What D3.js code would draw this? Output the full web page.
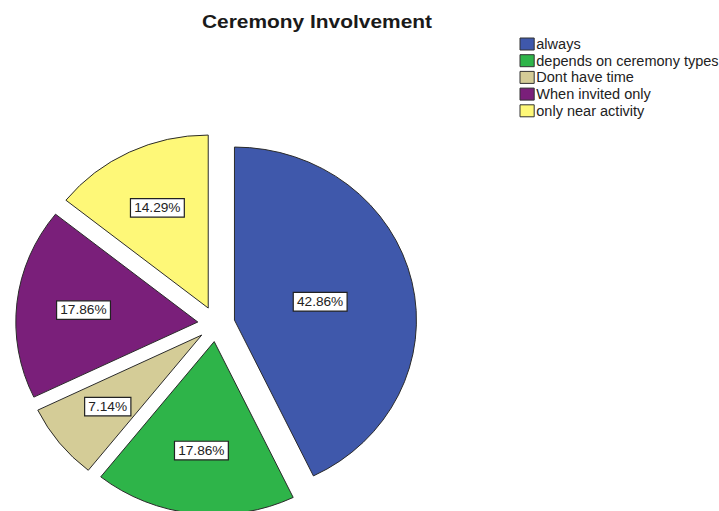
<!DOCTYPE html>
<html>
<head>
<meta charset="utf-8">
<script src="https://cdn.jsdelivr.net/npm/d3@7"></script>
<style>
  body { margin: 0; background: #ffffff; }
  text { font-family: "Liberation Sans", Arial, sans-serif; }
</style>
</head>
<body>
<div id="pie_d3"></div>
<script>
// data
var categories = ["always", "depends on ceremony types", "Dont have time", "When invited only", "only near activity"];
var percents = [42.86, 17.86, 7.14, 17.86, 14.29];
var colors = ["#3F58AB", "#2EB449", "#D4CC97", "#7A1F7A", "#FEF878"];

var width = 719,
    height = 511;

// pie geometry (the original is a bit wider than tall)
var cx = 216.3,
    cy = 324,
    radius = 173,
    stretchX = 1.052,
    explode = 17.7;

var svg = d3.select("#pie_d3")
    .append("svg")
    .attr("width", width)
    .attr("height", height);

svg.append("text")
    .attr("x", 317)
    .attr("y", 28)
    .attr("text-anchor", "middle")
    .attr("textLength", 230)
    .attr("lengthAdjust", "spacingAndGlyphs")
    .style("font-size", "18.5px")
    .style("font-weight", "bold")
    .style("fill", "#1a1a1a")
    .text("Ceremony Involvement");

var pie = d3.pie()
    .sort(null)
    .value(function(d) { return d; });

var arcs = pie(percents);

var arc = d3.arc()
    .innerRadius(0)
    .outerRadius(radius);

var pieG = svg.append("g")
    .attr("transform", "translate(" + cx + "," + cy + ") scale(" + stretchX + ",1)");

function mid(d) { return (d.startAngle + d.endAngle) / 2; }

pieG.selectAll(".slice")
    .data(arcs)
    .enter()
    .append("path")
    .attr("class", "slice")
    .attr("transform", function(d) {
        var a = mid(d);
        return "translate(" + (explode * Math.sin(a)) + "," + (-explode * Math.cos(a)) + ")";
    })
    .attr("d", arc)
    .style("fill", function(d, i) { return colors[i]; })
    .style("stroke", "#2b2b2b")
    .style("stroke-width", 1)
    .attr("vector-effect", "non-scaling-stroke");

// labels sit at the centroid of each sector
var labels = svg.selectAll(".pctLabel")
    .data(arcs)
    .enter()
    .append("g")
    .attr("class", "pctLabel")
    .attr("transform", function(d) {
        var a = mid(d);
        var half = (d.endAngle - d.startAngle) / 2;
        var dist = explode + radius * 2 * Math.sin(half) / (3 * half);
        var x = cx + stretchX * dist * Math.sin(a);
        var y = cy - dist * Math.cos(a);
        return "translate(" + x + "," + y + ") scale(" + stretchX + ",1)";
    });

labels.append("text")
    .attr("text-anchor", "middle")
    .attr("dy", "0.36em")
    .style("font-size", "13px")
    .style("fill", "#222")
    .text(function(d) { return d.data.toFixed(2) + "%"; });

labels.each(function() {
    var g = d3.select(this);
    var bb = g.select("text").node().getBBox();
    g.insert("rect", "text")
        .attr("x", bb.x - 3.5)
        .attr("y", bb.y - 2)
        .attr("width", bb.width + 7)
        .attr("height", bb.height + 4)
        .style("fill", "#ffffff")
        .style("stroke", "#222")
        .style("stroke-width", 1.2)
        .attr("vector-effect", "non-scaling-stroke");
});

// legend
var legendG = svg.append("g")
    .attr("transform", "translate(520,0) scale(" + stretchX + ",1)");

var legend = legendG.selectAll(".legendRow")
    .data(categories)
    .enter()
    .append("g")
    .attr("class", "legendRow")
    .attr("transform", function(d, i) { return "translate(0," + (44 + i * 16.7) + ")"; });

legend.append("rect")
    .attr("x", 0)
    .attr("y", -6)
    .attr("width", 13.5)
    .attr("height", 12)
    .style("fill", function(d, i) { return colors[i]; })
    .style("stroke", "#333")
    .style("stroke-width", 1)
    .attr("vector-effect", "non-scaling-stroke");

legend.append("text")
    .attr("x", 15.5)
    .attr("dy", "0.36em")
    .style("font-size", "13.8px")
    .style("fill", "#222")
    .text(function(d) { return d; });
</script>
</body>
</html>
